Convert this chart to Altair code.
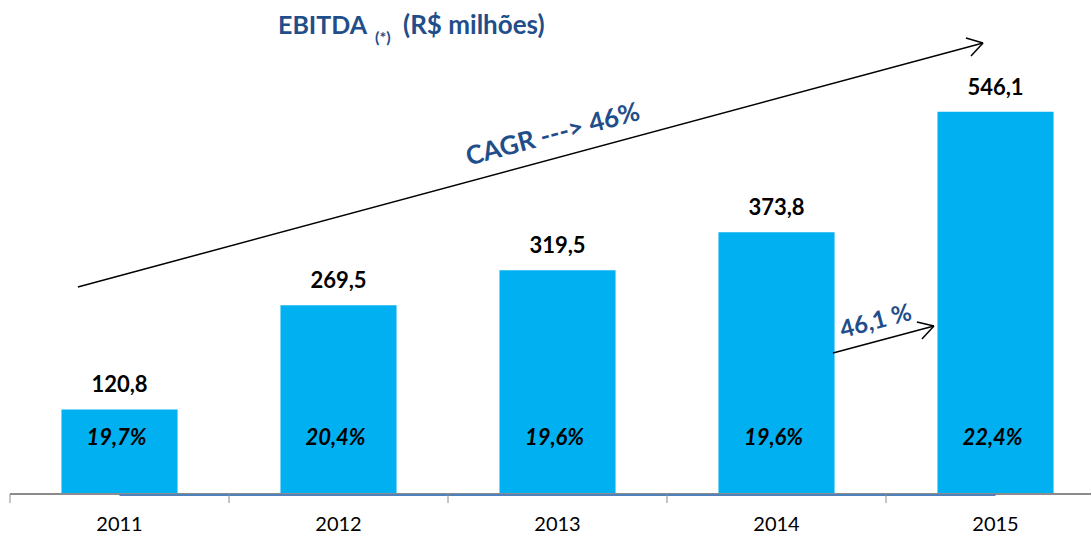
import altair as alt
import pandas as pd

# ---- data ----
years = ["2011", "2012", "2013", "2014", "2015"]
ebitda = [120.8, 269.5, 319.5, 373.8, 546.1]
margins = ["19,7%", "20,4%", "19,6%", "19,6%", "22,4%"]

FONT = "Lato"
BAR = "#00B0F0"
DARK = "#1F4E8A"

df = pd.DataFrame({
    "idx": list(range(len(years))),
    "year": years,
    "value": ebitda,
    "label": [f"{v:.1f}".replace(".", ",") for v in ebitda],
    "margin": margins,
})

xs = alt.Scale(domain=[-0.5, 4.436], nice=False, zero=False)
ys = alt.Scale(domain=[-60, 700], nice=False, zero=False)

base = alt.Chart(df)

bars = base.transform_calculate(
    x0="datum.idx - 0.265", x1="datum.idx + 0.265"
).mark_bar(color=BAR).encode(
    x=alt.X("x0:Q", scale=xs, axis=None),
    x2="x1:Q",
    y=alt.Y("value:Q", scale=ys, axis=None),
    y2=alt.datum(0),
)

value_labels = base.mark_text(
    font=FONT, fontWeight="bold", fontSize=22, baseline="alphabetic", dy=-17, color="black"
).encode(x=alt.X("idx:Q", scale=xs), y=alt.Y("value:Q", scale=ys), text="label:N")

pct_labels = base.mark_text(
    font=FONT, fontWeight="bold", fontStyle="italic", fontSize=22, baseline="middle", color="black", dx=-3
).encode(x=alt.X("idx:Q", scale=xs), y=alt.datum(80), text="margin:N")

# axis line, blue baseline series and ticks
axis_line = alt.Chart(pd.DataFrame({"a": [-0.5], "b": [4.436]})).mark_rule(
    color="#8C8C8C", strokeWidth=2
).encode(x=alt.X("a:Q", scale=xs), x2="b:Q", y=alt.datum(0))

blue_line = alt.Chart(pd.DataFrame({"a": [0], "b": [4]})).mark_rule(
    color="#4F81BD", strokeWidth=2, yOffset=1
).encode(x=alt.X("a:Q", scale=xs), x2="b:Q", y=alt.datum(0))

ticks = base.transform_calculate(t="datum.idx - 0.5").mark_rule(
    color="#8C8C8C", strokeWidth=1
).encode(x=alt.X("t:Q", scale=xs), y=alt.value(490), y2=alt.value(499))

year_labels = base.mark_text(
    font=FONT, fontSize=20, baseline="alphabetic", color="black"
).encode(x=alt.X("idx:Q", scale=xs), y=alt.value(527), text="year:N")

# arrows (annotation segments in data units)
arrow_x = [-0.19, 3.865, 3.888, 3.258, 3.641, 3.664]
arrow_y = [295.7, 651.4, 625.7, 201.4, 245.7, 221.4]
arrow_x2 = [3.943, 3.943, 3.943, 3.719, 3.719, 3.719]
arrow_y2 = [644.3, 644.3, 644.3, 240.0, 240.0, 240.0]
arrows = alt.Chart(pd.DataFrame({"x": arrow_x, "y": arrow_y, "x2": arrow_x2, "y2": arrow_y2})).mark_rule(
    color="black", strokeWidth=1.5
).encode(x=alt.X("x:Q", scale=xs), y=alt.Y("y:Q", scale=ys), x2="x2:Q", y2="y2:Q")

cagr = alt.Chart(pd.DataFrame({"x": [1.979], "y": [513], "t": ["CAGR ---> 46%"]})).mark_text(
    font=FONT, fontWeight="bold", fontSize=26, angle=345, color=DARK, baseline="middle"
).encode(x=alt.X("x:Q", scale=xs), y=alt.Y("y:Q", scale=ys), text="t:N")

growth = alt.Chart(pd.DataFrame({"x": [3.454], "y": [245.7], "t": ["46,1 %"]})).mark_text(
    font=FONT, fontWeight="bold", fontSize=24, angle=345, color=DARK, baseline="middle"
).encode(x=alt.X("x:Q", scale=xs), y=alt.Y("y:Q", scale=ys), text="t:N")

# title pieces
title_main = alt.Chart(pd.DataFrame({"t": ["EBITDA"]})).mark_text(
    font=FONT, fontWeight="bold", fontSize=25, color=DARK, align="left", baseline="alphabetic"
).encode(x=alt.value(268), y=alt.value(30), text="t:N")
title_sub = alt.Chart(pd.DataFrame({"t": ["(*)"]})).mark_text(
    font=FONT, fontWeight="bold", fontSize=16, color=DARK, align="left", baseline="alphabetic"
).encode(x=alt.value(365), y=alt.value(39), text="t:N")
title_unit = alt.Chart(pd.DataFrame({"t": ["(R$ milhões)"]})).mark_text(
    font=FONT, fontWeight="bold", fontSize=26, color=DARK, align="left", baseline="alphabetic"
).encode(x=alt.value(393), y=alt.value(30), text="t:N")

chart = alt.layer(
    bars, axis_line, blue_line, ticks, value_labels, pct_labels, year_labels,
    arrows, cagr, growth, title_main, title_sub, title_unit
).properties(
    width=1081, height=532,
    padding={"left": 10, "top": 4, "right": 0, "bottom": 0},
    autosize="none",
    background="white",
).configure_view(stroke=None)

chart.save("out.html", embed_options={"renderer": "svg", "actions": False})
